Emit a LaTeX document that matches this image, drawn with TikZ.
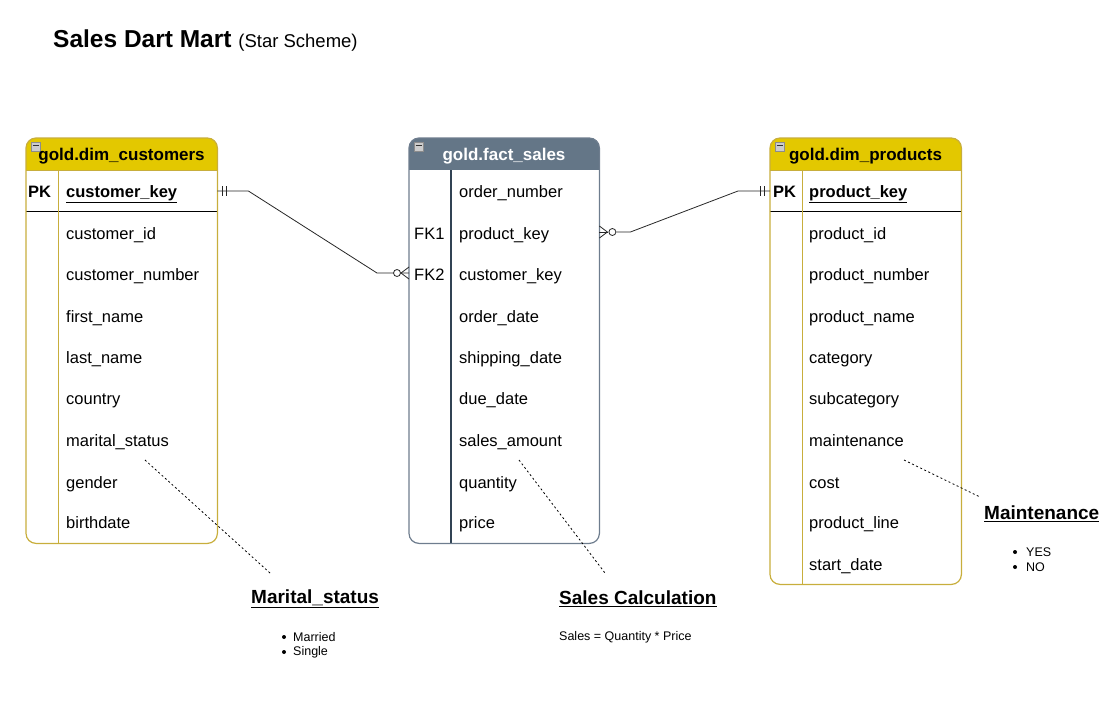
\documentclass[tikz,border=0pt]{standalone}
\usepackage{fontspec}
\setmainfont{Liberation Sans}
\definecolor{ygold}{HTML}{E3C800}
\definecolor{yborder}{HTML}{C8AE3C}
\definecolor{sfill}{HTML}{647687}
\definecolor{sborder}{HTML}{6E7D8E}
\definecolor{sdark}{HTML}{314354}
\begin{document}
\begin{tikzpicture}[x=1pt,y=-1pt,
  rowtxt/.style={anchor=west,inner sep=0pt,font=\fontsize{16.5}{18}\selectfont,text height=13pt,text depth=2pt,yshift=-1pt},
  keytxt/.style={rowtxt,font=\fontsize{16.5}{18}\selectfont\bfseries},
  hdrtxt/.style={inner sep=0pt,font=\fontsize{17}{19}\selectfont\bfseries,text height=13pt,text depth=2pt},
  tblbox/.style={inner sep=0pt,anchor=north west},
  conn/.style={draw=black!85,line width=0.8pt},
  note/.style={draw=black,line width=0.8pt,dash pattern=on 2pt off 2.5pt},
  notetitle/.style={anchor=west,inner sep=0pt,font=\fontsize{19}{22}\selectfont\bfseries},
  notetxt/.style={anchor=west,inner sep=0pt,font=\fontsize{12.5}{14}\selectfont},
  minusicon/.style={fill=black!20,draw=black!45,line width=0.5pt}
]
\useasboundingbox (0,0) rectangle (1115,721);

% Title
\node[anchor=base west,inner sep=0pt] (title) at (53,47)
  {\fontsize{24.5}{28}\selectfont\bfseries Sales Dart Mart\ \mdseries\fontsize{18.5}{22}\selectfont(Star Scheme)};

% ---------- tables (frames) ----------
\node[tblbox,minimum width=191pt,minimum height=405pt] (cust) at (26,138) {};
\node[tblbox,minimum width=190pt,minimum height=405pt] (fact) at (409,138) {};
\node[tblbox,minimum width=191pt,minimum height=446pt] (prod) at (770,138) {};

% customers
\begin{scope}
  \clip[rounded corners=10pt] (cust.north west) rectangle (cust.south east);
  \fill[ygold] (cust.north west) rectangle ([yshift=-32pt]cust.north east);
\end{scope}
\draw[yborder,line width=0.8pt] ([yshift=-32pt]cust.north west) -- ([yshift=-32pt]cust.north east);
\draw[black,line width=0.8pt] (26,211) -- (217,211);
\draw[yborder,line width=1pt] (58,170) -- (58,543);
\draw[yborder,line width=1.2pt,rounded corners=10pt] (cust.north west) rectangle (cust.south east);

% fact
\begin{scope}
  \clip[rounded corners=10pt] (fact.north west) rectangle (fact.south east);
  \fill[sfill] (fact.north west) rectangle ([yshift=-32pt]fact.north east);
\end{scope}
\draw[sdark,line width=1.2pt] (451,170) -- (451,543);
\draw[sborder,line width=1.2pt,rounded corners=10pt] (fact.north west) rectangle (fact.south east);

% products
\begin{scope}
  \clip[rounded corners=10pt] (prod.north west) rectangle (prod.south east);
  \fill[ygold] (prod.north west) rectangle ([yshift=-32pt]prod.north east);
\end{scope}
\draw[yborder,line width=0.8pt] ([yshift=-32pt]prod.north west) -- ([yshift=-32pt]prod.north east);
\draw[black,line width=0.8pt] (770,211) -- (961,211);
\draw[yborder,line width=1pt] (802,170) -- (802,584);
\draw[yborder,line width=1.2pt,rounded corners=10pt] (prod.north west) rectangle (prod.south east);

% minus icons
\foreach \ix in {31,414,775}{
  \draw[minusicon] (\ix,142) rectangle ++(9,9);
  \draw[black!80,line width=1pt] (\ix+1.5,145.5) -- ++(6,0);
}

% headers
\node[hdrtxt] (custh) at (121.5,155) {gold.dim\_customers};
\node[hdrtxt,text=white] (facth) at (504,155) {gold.fact\_sales};
\node[hdrtxt] (prodh) at (865.5,155) {gold.dim\_products};

% customers rows
\node[keytxt] (cpk) at (28,191) {PK};
\node[keytxt] (ckey) at (66,191) {\underline{customer\_key}};
\node[rowtxt] (c1) at (66,233) {customer\_id};
\node[rowtxt] (c2) at (66,274) {customer\_number};
\node[rowtxt] (c3) at (66,316) {first\_name};
\node[rowtxt] (c4) at (66,357) {last\_name};
\node[rowtxt] (c5) at (66,398) {country};
\node[rowtxt] (c6) at (66,440) {marital\_status};
\node[rowtxt] (c7) at (66,482) {gender};
\node[rowtxt] (c8) at (66,522) {birthdate};

% fact rows
\node[rowtxt] (f1) at (459,191) {order\_number};
\node[rowtxt] (fk1) at (414,233) {FK1};
\node[rowtxt] (f2) at (459,233) {product\_key};
\node[rowtxt] (fk2) at (414,274) {FK2};
\node[rowtxt] (f3) at (459,274) {customer\_key};
\node[rowtxt] (f4) at (459,316) {order\_date};
\node[rowtxt] (f5) at (459,357) {shipping\_date};
\node[rowtxt] (f6) at (459,398) {due\_date};
\node[rowtxt] (f7) at (459,440) {sales\_amount};
\node[rowtxt] (f8) at (459,482) {quantity};
\node[rowtxt] (f9) at (459,522) {price};

% product rows
\node[keytxt] (ppk) at (773,191) {PK};
\node[keytxt] (pkey) at (809,191) {\underline{product\_key}};
\node[rowtxt] (p1) at (809,233) {product\_id};
\node[rowtxt] (p2) at (809,274) {product\_number};
\node[rowtxt] (p3) at (809,316) {product\_name};
\node[rowtxt] (p4) at (809,357) {category};
\node[rowtxt] (p5) at (809,398) {subcategory};
\node[rowtxt] (p6) at (809,440) {maintenance};
\node[rowtxt] (p7) at (809,482) {cost};
\node[rowtxt] (p8) at (809,522) {product\_line};
\node[rowtxt] (p9) at (809,564) {start\_date};

% ---------- connectors ----------
% customers -> fact
\coordinate (ca) at (cust.east |- 0,191);
\coordinate (fa) at (fact.west |- 0,273);
\draw[conn] (ca) -- ++(31,0) -- ([xshift=-32pt]fa) -- ([xshift=-8pt]fa) -- (fa);
\draw[conn] ([xshift=5pt]ca) ++(0,-5) -- ++(0,10);
\draw[conn] ([xshift=9pt]ca) ++(0,-5) -- ++(0,10);
\draw[conn,fill=white] ([xshift=-12pt]fa) circle (3.5pt);
\draw[conn] ([xshift=-8pt]fa) -- ([yshift=-6pt]fa);
\draw[conn] ([xshift=-8pt]fa) -- ([yshift=6pt]fa);

% fact -> products
\coordinate (fb) at (fact.east |- 0,232);
\coordinate (pb) at (prod.west |- 0,191);
\draw[conn] (fb) -- ([xshift=9pt]fb);
\draw[conn] ([xshift=17pt]fb) -- ++(14,0) -- ([xshift=-32pt]pb) -- (pb);
\draw[conn,fill=white] ([xshift=13pt]fb) circle (3.5pt);
\draw[conn] ([xshift=8pt]fb) -- ([yshift=-6pt]fb);
\draw[conn] ([xshift=8pt]fb) -- ([yshift=6pt]fb);
\draw[conn] ([xshift=-10pt]pb) ++(0,-5) -- ++(0,10);
\draw[conn] ([xshift=-6pt]pb) ++(0,-5) -- ++(0,10);

% ---------- notes ----------
\node[notetitle] (mnote) at (251,599) {\underline{Marital\_status}};
\node[notetxt] (m1) at (293,637) {Married};
\node[notetxt] (m2) at (293,652) {Single};
\fill (284,637) circle (2pt);
\fill (284,652) circle (2pt);
\coordinate (mstart) at (145,460);
\coordinate (mend) at (270,573);
\draw[note] (mstart) -- (mend);

\node[notetitle] (snote) at (559,599) {\underline{Sales Calculation}};
\node[notetxt] (s1) at (559,637) {Sales = Quantity * Price};
\coordinate (sstart) at (519,460);
\coordinate (send) at (605,573);
\draw[note] (sstart) -- (send);

\node[notetitle] (mtnote) at (984,514) {\underline{Maintenance}};
\node[notetxt] (y1) at (1026,552) {YES};
\node[notetxt] (y2) at (1026,567) {NO};
\fill (1015,552) circle (2pt);
\fill (1015,567) circle (2pt);
\coordinate (tstart) at (904,460);
\coordinate (tend) at (980,497);
\draw[note] (tstart) -- (tend);
\end{tikzpicture}
\end{document}
